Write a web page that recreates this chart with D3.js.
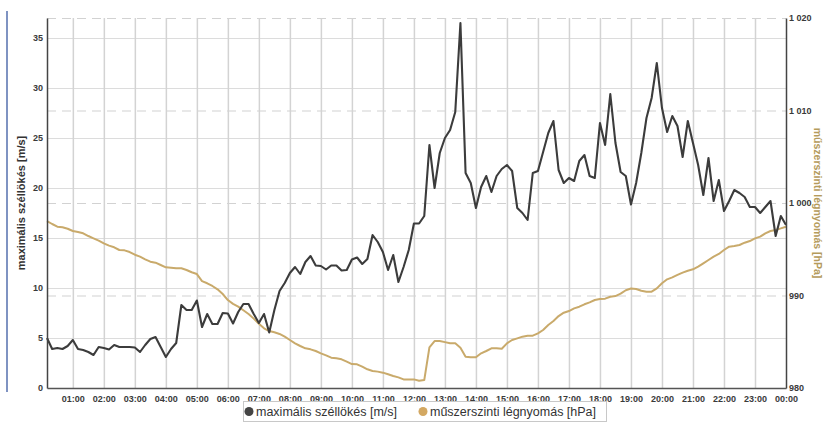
<!DOCTYPE html>
<html>
<head>
<meta charset="utf-8">
<script src="https://cdn.jsdelivr.net/npm/d3@7"></script>
<style>
  html, body { margin: 0; padding: 0; background: #fff; }
  svg { display: block; font-family: "Liberation Sans", Arial, sans-serif; }
</style>
</head>
<body>
<svg id="chart" width="825" height="425"></svg>
<script>
// Ten-minute samples, 00:10 .. 24:00
const gustValues = [
  5.0, 3.9, 4.0, 3.9, 4.2, 4.8,
  3.9, 3.8, 3.6, 3.3, 4.1, 4.0,
  3.85, 4.3, 4.1, 4.1, 4.1, 4.05,
  3.6, 4.3, 4.9, 5.1, 4.1, 3.1,
  3.9, 4.5, 8.3, 7.8, 7.8, 8.75,
  6.1, 7.4, 6.4, 6.4, 7.5, 7.45,
  6.45, 7.6, 8.4, 8.4, 7.4, 6.5,
  7.4, 5.55, 7.8, 9.7, 10.5, 11.5,
  12.1, 11.4, 12.6, 13.2, 12.25, 12.2,
  11.85, 12.25, 12.25, 11.75, 11.8, 12.85,
  13.05, 12.4, 12.9, 15.3, 14.6, 13.6,
  11.8, 13.3, 10.6, 12.1, 13.8, 16.45,
  16.45, 17.2, 24.3, 20.0, 23.5, 25.0,
  25.8, 27.6, 36.5, 21.5, 20.5, 18.0,
  20.1, 21.2, 19.6, 21.2, 21.9, 22.3,
  21.7, 18.0, 17.5, 16.8, 21.5, 21.7,
  23.6, 25.5, 26.7, 21.8, 20.5, 21.0,
  20.7, 22.7, 23.3, 21.2, 21.0, 26.5,
  24.3, 29.4, 24.5, 21.6, 21.2, 18.35,
  20.5, 23.5, 27.0, 29.0, 32.5, 28.0,
  25.6, 27.2, 26.2, 23.1, 26.7, 24.5,
  22.3, 19.3, 23.0, 18.7, 20.8, 17.7,
  18.7, 19.8, 19.5, 19.1, 18.1, 18.1,
  17.5, 18.1, 18.7, 15.2, 17.2, 16.3
];

const pressureValues = [
  998.05, 997.73, 997.44, 997.37, 997.22, 996.97,
  996.86, 996.72, 996.43, 996.18, 995.93, 995.64,
  995.39, 995.21, 994.92, 994.88, 994.70, 994.41,
  994.20, 993.91, 993.66, 993.55, 993.30, 993.05,
  993.01, 992.94, 992.94, 992.76, 992.51, 992.32,
  991.55, 991.32, 991.03, 990.67, 990.16, 989.51,
  989.10, 988.80, 988.40, 988.00, 987.50, 986.95,
  986.45, 986.16, 986.02, 985.84, 985.55, 985.19,
  984.83, 984.54, 984.29, 984.18, 984.00, 983.75,
  983.53, 983.28, 983.21, 983.10, 982.85, 982.59,
  982.56, 982.31, 982.02, 981.84, 981.77, 981.66,
  981.48, 981.30, 981.15, 980.93, 980.93, 980.93,
  980.79, 980.86, 984.40, 985.08, 985.08, 984.96,
  984.83, 984.83, 984.36, 983.39, 983.32, 983.32,
  983.75, 984.00, 984.29, 984.29, 984.25, 984.83,
  985.19, 985.37, 985.55, 985.66, 985.66, 985.91,
  986.27, 986.81, 987.24, 987.78, 988.14, 988.32,
  988.61, 988.79, 989.05, 989.26, 989.51, 989.62,
  989.66, 989.87, 989.94, 990.20, 990.57, 990.75,
  990.70, 990.52, 990.41, 990.41, 990.77, 991.32,
  991.75, 991.96, 992.22, 992.47, 992.68, 992.83,
  993.12, 993.48, 993.84, 994.20, 994.49, 994.92,
  995.28, 995.35, 995.46, 995.71, 995.89, 996.18,
  996.36, 996.72, 996.97, 997.08, 997.26, 997.44
];

const gustTicks = [0, 5, 10, 15, 20, 25, 30, 35];
const pressureTicks = [980, 990, 1000, 1010, 1020];
const gustLabel = "maximális széllökés [m/s]";
const pressureLabel = "műszerszinti légnyomás [hPa]";
const seriesNames = ["maximális széllökés [m/s]", "műszerszinti légnyomás [hPa]"];
const seriesColors = ["#3c3c3c", "#c9aa6b"];

const firstSample = Date.UTC(2020, 0, 1, 0, 10);
const sampleStep = 10 * 60 * 1000;
const times = gustValues.map((_, i) => new Date(firstSample + i * sampleStep));

const svg = d3.select("#chart");
const L = 47, R = 786, T = 18, B = 388;

const x = d3.scaleUtc()
  .domain([times[0], times[times.length - 1]])
  .range([L, R]);
const yGust = d3.scaleLinear().domain([0, 37]).range([B, T]);
const yPres = d3.scaleLinear().domain([980, 1020]).range([B, T]);

const huLocale = d3.formatLocale({ decimal: ",", thousands: " ", grouping: [3], currency: ["", " Ft"] });
const presFmt = huLocale.format(",d");

// side rule on the far left
svg.append("line")
  .attr("x1", 7).attr("x2", 7).attr("y1", 11).attr("y2", 392)
  .attr("stroke", "#7f93c2").attr("stroke-width", 2);

// horizontal grid (left scale, solid)
svg.append("g")
  .attr("transform", `translate(${L},0)`)
  .call(d3.axisLeft(yGust).tickValues(gustTicks.filter(v => v > 0)).tickSize(-(R - L)).tickFormat(""))
  .call(g => g.select(".domain").remove())
  .call(g => g.selectAll("line").attr("stroke", "#dcdcdc").attr("stroke-width", 1.2));

// horizontal grid (right scale, dashed)
svg.append("g")
  .attr("transform", `translate(${L},0)`)
  .call(d3.axisLeft(yPres).tickValues(pressureTicks.filter(v => v > 980)).tickSize(-(R - L)).tickFormat(""))
  .call(g => g.select(".domain").remove())
  .call(g => g.selectAll("line").attr("stroke", "#d2d2d2").attr("stroke-width", 1.2).attr("stroke-dasharray", "9,6"));

// vertical grid, one line per hour
const hourTicks = x.ticks(d3.utcHour.every(1));
svg.append("g")
  .attr("transform", `translate(0,${B})`)
  .call(d3.axisBottom(x).tickValues(hourTicks.filter(d => x(d) < R - 2)).tickSize(-(B - T)).tickFormat(""))
  .call(g => g.select(".domain").remove())
  .call(g => g.selectAll("line").attr("stroke", "#d3d3d3").attr("stroke-width", 1.5));

// series lines
const gustLine = d3.line().x((d, i) => x(times[i])).y(d => yGust(d));
const presLine = d3.line().x((d, i) => x(times[i])).y(d => yPres(d));

svg.append("path").datum(pressureValues)
  .attr("d", presLine).attr("fill", "none")
  .attr("stroke", seriesColors[1]).attr("stroke-width", 2).attr("stroke-linejoin", "round");

svg.append("path").datum(gustValues)
  .attr("d", gustLine).attr("fill", "none")
  .attr("stroke", seriesColors[0]).attr("stroke-width", 2.1).attr("stroke-linejoin", "round");

// axes
const tickFont = g => g.selectAll("text")
  .attr("fill", "#3a3a3a").style("font-size", "9px").style("font-weight", "bold");

svg.append("g")
  .attr("transform", `translate(${L},0)`)
  .call(d3.axisLeft(yGust).tickValues(gustTicks).tickSize(0).tickPadding(4))
  .call(g => g.select(".domain").attr("stroke", "#444").attr("stroke-width", 1.5))
  .call(tickFont);

svg.append("g")
  .attr("transform", `translate(${R},0)`)
  .call(d3.axisRight(yPres).tickValues(pressureTicks).tickSize(0).tickPadding(3).tickFormat(presFmt))
  .call(g => g.select(".domain").attr("stroke", "#444").attr("stroke-width", 1.5))
  .call(tickFont);

svg.append("g")
  .attr("transform", `translate(0,${B})`)
  .call(d3.axisBottom(x).tickValues(hourTicks).tickSize(0).tickPadding(8).tickFormat(d3.utcFormat("%H:%M")))
  .call(g => g.select(".domain").attr("stroke", "#555").attr("stroke-width", 1.5))
  .call(tickFont);

// axis titles
svg.append("text")
  .attr("transform", `translate(25,${(T + B) / 2}) rotate(-90)`)
  .attr("text-anchor", "middle")
  .attr("fill", "#333")
  .style("font-size", "11px").style("font-weight", "bold")
  .text(gustLabel);

svg.append("text")
  .attr("transform", `translate(814,${(T + B) / 2}) rotate(90)`)
  .attr("text-anchor", "middle")
  .attr("fill", "#b59b5c")
  .style("font-size", "10.5px").style("font-weight", "bold")
  .text(pressureLabel);

// legend
const legend = svg.append("g");
legend.append("rect")
  .attr("x", 243.5).attr("y", 401.5).attr("width", 363).attr("height", 20)
  .attr("fill", "#fff").attr("stroke", "#c8c8c8");
const legendX = [249, 423];
seriesNames.forEach((name, i) => {
  legend.append("circle")
    .attr("cx", legendX[i]).attr("cy", 411.5).attr("r", 4.5)
    .attr("fill", i === 0 ? "#444" : "#d3a862");
  legend.append("text")
    .attr("x", legendX[i] + 7).attr("y", 416)
    .attr("fill", "#333")
    .style("font-size", "12.5px")
    .text(name);
});
</script>
</body>
</html>
